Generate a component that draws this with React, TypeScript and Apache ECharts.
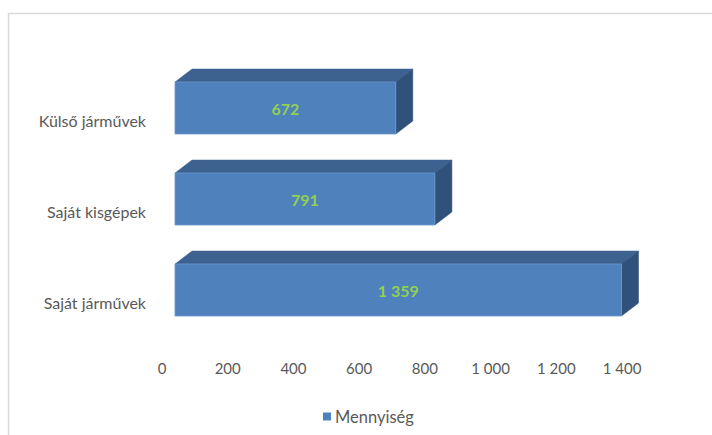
import React, { useEffect, useRef } from "react";
import * as echarts from "echarts";

const categories = ["Saját járművek", "Saját kisgépek", "Külső járművek"];
const values = [1359, 791, 672];
const seriesName = "Mennyiség";

const fmt = (v: number) => String(v).replace(/\B(?=(\d{3})+(?!\d))/g, " ");

export default function App() {
  const ref = useRef<HTMLDivElement>(null);
  useEffect(() => {
    if (!ref.current) return;
    const chart = echarts.init(ref.current, null, { renderer: "svg" });
    const FONT = "Lato, 'Open Sans', sans-serif";
    const SHIFT_X = 13;
    const SHIFT_Y = -12;
    const DX = 17;
    const DY = -13;
    const H = 52;
    chart.setOption({
      animation: false,
      backgroundColor: "#ffffff",
      grid: { left: 162, right: 90, top: 74.5, bottom: 87.5, containLabel: false },
      xAxis: {
        type: "value",
        min: 0,
        max: 1400,
        interval: 200,
        axisLine: { show: false },
        axisTick: { show: false },
        splitLine: { show: false },
        axisLabel: {
          margin: 13,
          color: "#595959",
          fontSize: 15,
          fontFamily: FONT,
          formatter: (v: number) => fmt(v),
        },
      },
      yAxis: {
        type: "category",
        data: categories,
        axisLine: { show: false },
        axisTick: { show: false },
        splitLine: { show: false },
        axisLabel: { margin: 16, color: "#595959", fontSize: 16, fontFamily: FONT },
      },
      legend: {
        data: [seriesName],
        left: 318,
        top: 403,
        icon: "rect",
        itemWidth: 8,
        itemHeight: 8,
        itemGap: 4,
        textStyle: { color: "#595959", fontSize: 16.5, fontFamily: FONT, padding: [0, 0, 0, -1] },
      },
      graphic: [
        {
          type: "rect",
          shape: { x: 8.5, y: 13.5, width: 720, height: 440 },
          style: { fill: "none", stroke: "#d9d9d9", lineWidth: 1.5 },
          silent: true,
        },
      ],
      series: [
        {
          name: seriesName,
          type: "custom",
          itemStyle: { color: "#4F81BD" },
          encode: { x: 0, y: 1 },
          data: values.map((v, i) => [v, i]),
          renderItem: (params: any, api: any) => {
            const v = api.value(0);
            const c = api.value(1);
            const p0 = api.coord([0, c]);
            const p1 = api.coord([v, c]);
            const x0 = p0[0] + SHIFT_X;
            const x1 = p1[0] + SHIFT_X;
            const yc = p0[1] + SHIFT_Y;
            const y0 = yc - H / 2;
            const y1 = yc + H / 2;
            return {
              type: "group",
              children: [
                {
                  type: "polygon",
                  shape: { points: [[x0, y0], [x0 + DX, y0 + DY], [x1 + DX, y0 + DY], [x1, y0]] },
                  style: { fill: "#3D6290", stroke: "#3D6290", lineWidth: 0.5 },
                },
                {
                  type: "polygon",
                  shape: { points: [[x1, y0], [x1 + DX, y0 + DY], [x1 + DX, y1 + DY], [x1, y1]] },
                  style: { fill: "#30517A", stroke: "#30517A", lineWidth: 0.5 },
                },
                {
                  type: "rect",
                  shape: { x: x0, y: y0, width: x1 - x0, height: H },
                  style: { fill: "#4F81BD", stroke: "#6C98CE", lineWidth: 0.8 },
                },
                {
                  type: "text",
                  style: {
                    text: fmt(v),
                    x: (x0 + x1) / 2,
                    y: yc,
                    align: "center",
                    verticalAlign: "middle",
                    fill: "#92D050",
                    fontSize: 16,
                    fontWeight: "bold",
                    fontFamily: FONT,
                  },
                },
              ],
            };
          },
        },
      ],
    });
    return () => chart.dispose();
  }, []);
  return (
    <div
      ref={ref}
      style={{ position: "fixed", left: 0, top: 0, width: 712, height: 435 }}
    />
  );
}
